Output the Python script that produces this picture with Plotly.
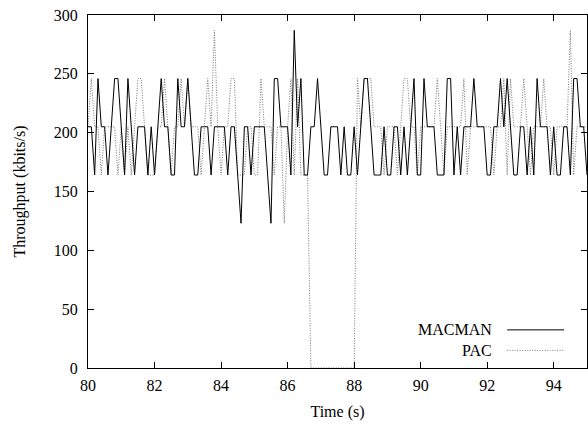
import plotly.graph_objects as go

# time axis: samples every 0.1 s from 80.0 to 95.0
time_s = [round(80.0 + 0.1 * i, 1) for i in range(151)]

macman = [
    205, 205, 164, 246, 205, 205, 164, 205, 246, 246,
    205, 164, 246, 205, 164, 205, 205, 205, 164, 205,
    164, 205, 246, 205, 205, 164, 164, 246, 205, 205,
    246, 205, 164, 164, 205, 205, 205, 164, 205, 205,
    205, 205, 164, 205, 205, 164, 123, 205, 205, 164,
    205, 205, 205, 205, 164, 123, 246, 246, 205, 205,
    205, 164, 287, 205, 246, 164, 164, 205, 205, 246,
    205, 164, 164, 205, 205, 205, 164, 205, 164, 164,
    205, 164, 205, 246, 246, 205, 164, 164, 164, 205,
    164, 164, 205, 205, 164, 205, 164, 205, 246, 164,
    164, 246, 205, 205, 205, 164, 164, 164, 246, 246,
    164, 205, 164, 205, 205, 205, 246, 205, 205, 205,
    164, 164, 205, 205, 246, 205, 246, 205, 164, 164,
    205, 205, 164, 205, 164, 246, 205, 205, 205, 164,
    205, 164, 164, 205, 205, 164, 246, 246, 205, 205,
    164,
]

pac = [
    205, 246, 205, 205, 164, 205, 205, 205, 205, 164,
    205, 164, 205, 164, 205, 246, 246, 205, 164, 164,
    164, 205, 205, 246, 205, 164, 205, 205, 246, 205,
    246, 205, 205, 205, 164, 205, 246, 205, 287, 205,
    164, 205, 205, 246, 246, 164, 164, 164, 205, 205,
    164, 164, 246, 205, 205, 205, 164, 205, 205, 123,
    205, 246, 164, 246, 164, 164, 164, 0, 0, 0,
    0, 0, 0, 0, 0, 0, 0, 0, 0, 0,
    0, 246, 205, 246, 246, 246, 205, 205, 205, 164,
    205, 205, 205, 164, 205, 246, 246, 205, 205, 164,
    205, 205, 205, 205, 205, 246, 205, 164, 205, 205,
    205, 205, 205, 246, 164, 205, 205, 205, 205, 205,
    205, 205, 164, 205, 205, 246, 164, 246, 205, 205,
    205, 246, 205, 164, 205, 205, 205, 246, 205, 205,
    164, 205, 205, 205, 205, 287, 164, 205, 205, 205,
    205,
]

x_ticks = [80, 82, 84, 86, 88, 90, 92, 94]
y_ticks = [0, 50, 100, 150, 200, 250, 300]

FONT = "Liberation Serif"
PAC_LINE = dict(color="#777777", width=1, dash="1px,1.5px")

fig = go.Figure()
fig.add_trace(go.Scatter(x=time_s, y=pac, mode="lines", name="PAC", line=PAC_LINE))
fig.add_trace(go.Scatter(x=time_s, y=macman, mode="lines", name="MACMAN",
                         line=dict(color="#000000", width=1)))

axis_common = dict(
    showgrid=False, zeroline=False, ticks="inside", ticklen=6,
    tickwidth=1, tickcolor="black", showline=True, linecolor="black",
    linewidth=1, mirror="ticks",
    tickfont=dict(family=FONT, size=16, color="black"),
)

fig.update_layout(
    width=588, height=432,
    margin=dict(l=88, r=1, t=15, b=64),
    paper_bgcolor="white", plot_bgcolor="white",
    showlegend=False,
    font=dict(family=FONT, size=16, color="black"),
    xaxis=dict(range=[80, 95], tickvals=x_ticks, ticklabelstandoff=3,
               title=dict(text="Time (s)", font=dict(family=FONT, size=16), standoff=12),
               **axis_common),
    yaxis=dict(range=[0, 300], tickvals=y_ticks, ticklabelstandoff=6,
               title=dict(text="Throughput (kbits/s)", font=dict(family=FONT, size=16), standoff=24),
               **axis_common),
)

# gnuplot-style key: text on the left, line sample on the right
key = [("MACMAN", 0.108, dict(color="#000000", width=1)),
       ("PAC", 0.05, PAC_LINE)]
for label, yk, ln in key:
    fig.add_annotation(x=0.814, y=yk, xref="paper", yref="paper", text=label,
                       showarrow=False, xanchor="right", yanchor="middle",
                       font=dict(family=FONT, size=16, color="black"))
    fig.add_shape(type="line", xref="paper", yref="paper",
                  x0=0.84, x1=0.954, y0=yk, y1=yk, line=ln)

# remove the default page margin and scrollbars so the figure sits at the origin
page_fix = ("document.body.style.margin='0';"
            "document.documentElement.style.overflow='hidden';"
            "document.body.style.overflow='hidden';")
fig.write_html("out.html", post_script=page_fix,
               config={"displayModeBar": False, "staticPlot": True})
